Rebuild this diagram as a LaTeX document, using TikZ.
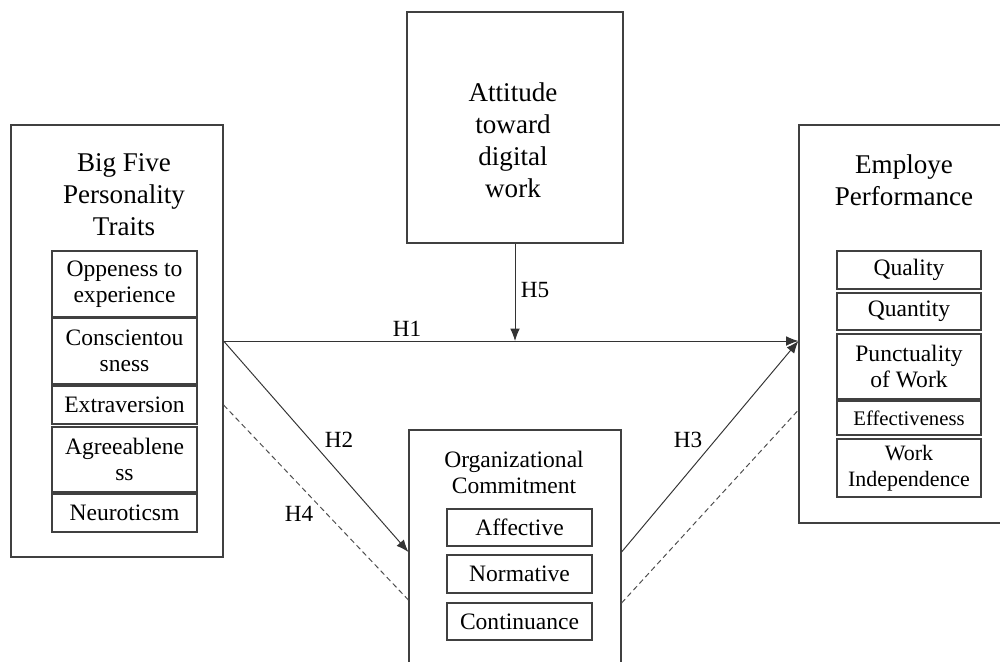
\documentclass[tikz,border=0pt]{standalone}
\usepackage{fontspec}
\setmainfont{Liberation Serif}
\usetikzlibrary{arrows.meta}
\tikzset{
  outerbox/.style={draw=black!75, line width=0.7pt, inner sep=0pt},
  innerbox/.style={draw=black!75, line width=0.7pt, minimum width=2.9cm, inner sep=0pt, align=center, font=\fontsize{13.4}{14.8}\selectfont},
  title/.style={align=center, inner sep=0pt, font=\fontsize{15.4}{18.2}\selectfont},
  subtitle/.style={align=center, inner sep=0pt, font=\fontsize{13.4}{14.8}\selectfont},
  hlabel/.style={inner sep=0pt, font=\fontsize{13.2}{15}\selectfont},
  conn/.style={draw=black!80, line width=0.55pt},
  arr/.style={conn, -{Latex[length=7pt,width=5.5pt]}},
  dconn/.style={draw=black!70, line width=0.55pt, dash pattern=on 3pt off 2pt},
}
\begin{document}
\begin{tikzpicture}[x=0.02cm, y=-0.02cm]
\useasboundingbox (0,0) rectangle (1000,662);
\clip (0,0) rectangle (1000,662);
\fill[white] (0,0) rectangle (1000,662);
% outer boxes
\node[outerbox, minimum width=4.24cm, minimum height=8.64cm] (L) at (117,341) {};
\node[outerbox, minimum width=4.32cm, minimum height=4.62cm] (T) at (515,127.5) {};
\node[outerbox, minimum width=4.2cm, minimum height=7.96cm] (R) at (904,324) {};
\node[outerbox, minimum width=4.24cm, minimum height=5cm] (B) at (515,555) {};
% titles
\node[title] (Lt) at (124,195) {Big Five\\Personality\\Traits};
\node[title] (Tt) at (513,140) {Attitude\\toward\\digital\\work};
\node[title] (Rt) at (904,180) {Employe\\Performance};
\node[subtitle] (Bt) at (514,472) {Organizational\\Commitment};
% left inner boxes
\node[innerbox, minimum height=1.32cm] (L1) at (124.5,284) {Oppeness to\\experience};
\node[innerbox, minimum height=1.32cm] (L2) at (124.5,351) {Conscientou\\sness};
\node[innerbox, minimum height=0.76cm] (L3) at (124.5,405) {Extraversion};
\node[innerbox, minimum height=1.30cm] (L4) at (124.5,459.5) {Agreeablene\\ss};
\node[innerbox, minimum height=0.76cm] (L5) at (124.5,513) {Neuroticsm};
% right inner boxes
\node[innerbox, minimum width=2.88cm, minimum height=0.76cm] (R1) at (909,270) {Quality};
\node[innerbox, minimum width=2.88cm, minimum height=0.74cm] (R2) at (909,311.5) {Quantity};
\node[innerbox, minimum width=2.88cm, minimum height=1.30cm] (R3) at (909,366.5) {Punctuality\\of Work};
\node[innerbox, minimum width=2.88cm, minimum height=0.68cm, font=\fontsize{11.8}{13.5}\selectfont] (R4) at (909,418) {Effectiveness};
\node[innerbox, minimum width=2.88cm, minimum height=1.16cm, font=\fontsize{12.5}{14.5}\selectfont] (R5) at (909,468) {Work\\Independence};
% bottom inner boxes
\node[innerbox, minimum height=0.74cm] (B1) at (519.5,527.5) {Affective};
\node[innerbox, minimum height=0.76cm] (B2) at (519.5,574) {Normative};
\node[innerbox, minimum height=0.74cm] (B3) at (519.5,621.5) {Continuance};
% connectors
\draw[arr] (L.east) -- (L.east -| R.west);
\draw[arr] (T.south) -- (T.south |- L.east);
\draw[arr] (L.east) -- ([yshift=0.06cm]B.west);
\draw[arr] ([yshift=0.06cm]B.east) -- (L.east -| R.west);
\draw[dconn] ([yshift=-1.28cm]L.east) -- ([yshift=-0.9cm]B.west);
\draw[dconn] ([yshift=-0.96cm]B.east) -- ([yshift=-1.72cm]R.west);
% labels
\node[hlabel] (h1) at (407,329) {H1};
\node[hlabel] (h5) at (535,290) {H5};
\node[hlabel] (h2) at (339,440) {H2};
\node[hlabel] (h4) at (299,514) {H4};
\node[hlabel] (h3) at (688,440) {H3};
\end{tikzpicture}
\end{document}
